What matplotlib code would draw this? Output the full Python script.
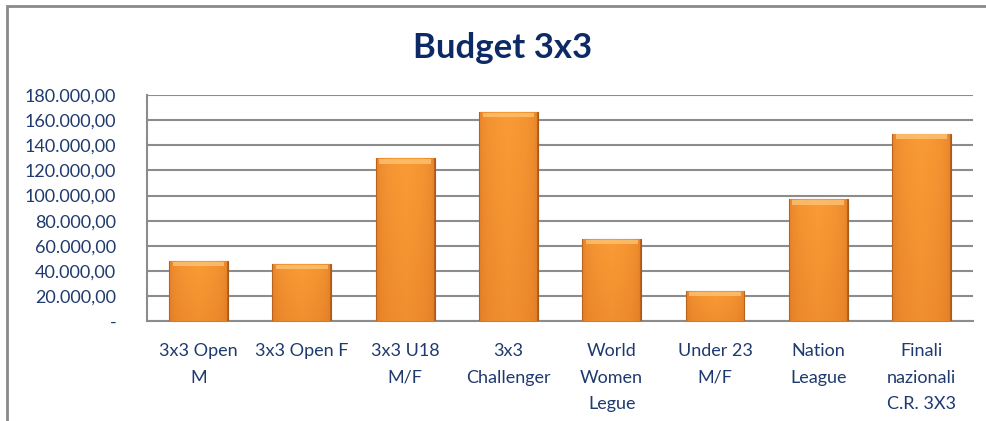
import matplotlib.pyplot as plt
import numpy as np
from matplotlib.patches import Rectangle
from matplotlib.colors import LinearSegmentedColormap

categories = ["3x3 Open\nM", "3x3 Open F", "3x3 U18\nM/F", "3x3\nChallenger",
              "World\nWomen\nLegue", "Under 23\nM/F", "Nation\nLeague",
              "Finali\nnazionali\nC.R. 3X3"]
budget = [48000, 45300, 129700, 166600, 65300, 24000, 97000, 149300]
y_ticks = [0, 20000, 40000, 60000, 80000, 100000, 120000, 140000, 160000, 180000]

navy = "#1F3A6E"
grid_col = "#8C8C8C"
plt.rcParams["font.family"] = ["Lato", "DejaVu Sans"]

fig = plt.figure(figsize=(9.86, 4.21), dpi=100)
ax = fig.add_axes([0.149, 0.2375, 0.838, 0.5365])

x = np.arange(len(categories))
bars = ax.bar(x, budget, width=0.57, color="#F39232", edgecolor="#A65A1C",
              linewidth=0.8, zorder=3)

# shaded fill inside each bar
cmap = LinearSegmentedColormap.from_list("o", ["#B9621C", "#E07A25", "#F99B35"])
gx = np.linspace(0, 1, 60)
gy = np.linspace(0, 1, 40)
shade = np.clip(1 - np.abs(gx - 0.5) * 2, 0, 1)[None, :] ** 0.12
vert = (0.82 + 0.18 * gy)[:, None]
img = shade * vert
for b in bars:
    x0, w, h = b.get_x(), b.get_width(), b.get_height()
    im = ax.imshow(img, extent=[x0, x0 + w, 0, h], origin="lower", aspect="auto",
                   cmap=cmap, vmin=0, vmax=1, zorder=3.5)
    im.set_clip_path(b)
    # light bevel at the top
    ax.add_patch(Rectangle((x0 + w * 0.06, h - 4200), w * 0.88, 3600,
                           color="#FCC070", lw=0, zorder=4, alpha=0.85))

ax.set_xlim(-0.5, len(categories) - 0.5)
ax.set_ylim(0, 180000)
ax.set_yticks(y_ticks)
ax.set_yticklabels(["-"] + [f"{v:,.2f}".replace(",", "X").replace(".", ",").replace("X", ".")
                            for v in y_ticks[1:]])
ax.set_xticks(x)
ax.set_xticklabels(categories, linespacing=1.8)
ax.tick_params(axis="both", length=0, colors=navy, labelsize=13)
ax.tick_params(axis="y", pad=22)
ax.tick_params(axis="x", pad=16)
for t in ax.get_yticklabels():
    t.set_color(navy)
for t in ax.get_xticklabels():
    t.set_color(navy)

ax.yaxis.grid(True, color=grid_col, linewidth=1.5, zorder=0)
ax.set_axisbelow(True)
for s in ["top", "right"]:
    ax.spines[s].set_visible(False)
for s in ["left", "bottom"]:
    ax.spines[s].set_color(grid_col)
    ax.spines[s].set_linewidth(1.5)

fig.text(0.51, 0.885, "Budget 3x3", ha="center", va="center", fontsize=25,
         fontweight="bold", color="#0D2A66")

# outer chart frame
fig.add_artist(Rectangle((7 / 986, -0.1), 1.2, 1 - 6 / 421 + 0.1, transform=fig.transFigure,
                         fill=False, edgecolor="#8A8A8A", linewidth=2))

fig.savefig("out.png", dpi=100)
